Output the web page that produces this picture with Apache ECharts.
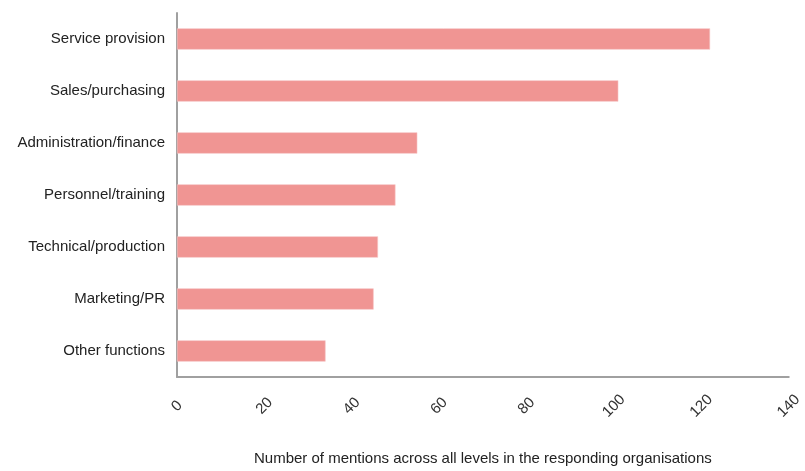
<!DOCTYPE html>
<html>
<head>
<meta charset="utf-8">
<script src="https://cdn.jsdelivr.net/npm/echarts@6/dist/echarts.min.js"></script>
<style>html,body{margin:0;padding:0;background:#fff}#c{width:805px;height:471px}</style>
</head>
<body>
<div id="c"></div>
<script>
const categories = ["Service provision","Sales/purchasing","Administration/finance","Personnel/training","Technical/production","Marketing/PR","Other functions"];
const values = [122, 101, 55, 50, 46, 45, 34];
const xTicks = [0, 20, 40, 60, 80, 100, 120, 140];
const axisTitle = "Number of mentions across all levels in the responding organisations";

const font = '"Liberation Sans", Arial, sans-serif';
const chart = echarts.init(document.getElementById('c'));
chart.setOption({
  animation: false,
  grid: {left: 177, right: 14, top: 13, bottom: 85, containLabel: false},
  xAxis: {
    type: 'value', min: xTicks[0], max: xTicks[xTicks.length-1], interval: 20,
    axisLine: {show: true, lineStyle: {color: '#a0a0a0', width: 2}},
    axisTick: {show: false},
    splitLine: {show: false},
    axisLabel: {rotate: 45, align: 'center', verticalAlign: 'middle', margin: 29,
      fontFamily: font, fontSize: 15, color: '#333'},
    name: axisTitle, nameLocation: 'middle', nameGap: 74,
    nameTextStyle: {fontFamily: font, fontSize: 15, color: '#222'}
  },
  yAxis: {
    type: 'category', data: categories, inverse: true,
    axisLine: {show: true, lineStyle: {color: '#a0a0a0', width: 2}},
    axisTick: {show: false},
    axisLabel: {fontFamily: font, fontSize: 15, color: '#222', margin: 12}
  },
  series: [{
    type: 'bar', data: values, barWidth: '41%',
    itemStyle: {color: '#F09593', borderColor: '#F7C3C2', borderWidth: 0.6}
  }]
});
</script>
</body>
</html>
